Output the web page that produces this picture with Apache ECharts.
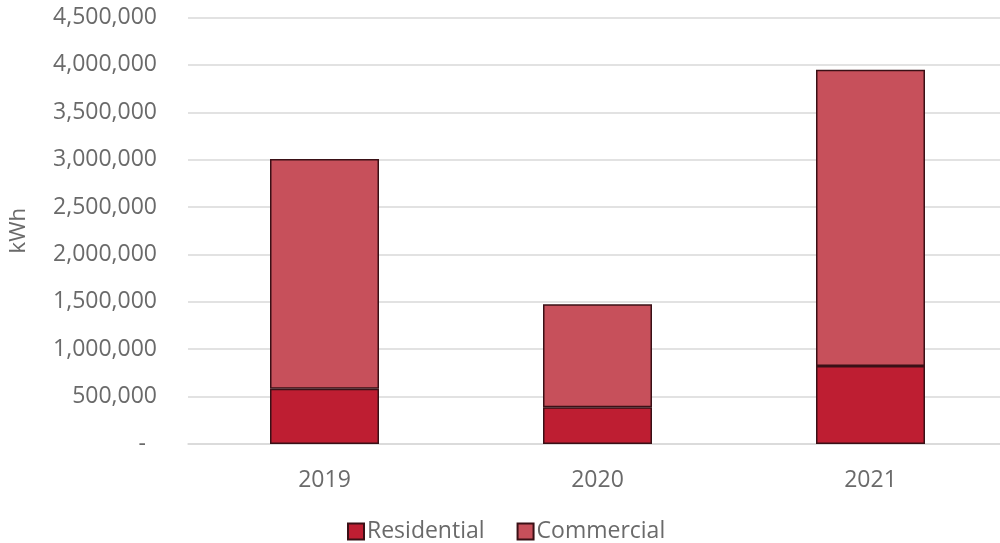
<!DOCTYPE html>
<html>
<head>
<meta charset="utf-8">
<title>Energy use by sector</title>
<script src="https://cdn.jsdelivr.net/npm/echarts@6/dist/echarts.min.js"></script>
<style>
  html, body { margin: 0; padding: 0; background: #ffffff; overflow: hidden; }
  #wrap { width: 1000px; height: 543px; overflow: hidden; }
  /* the plot area runs slightly past the right edge of the page */
  #chart { width: 1007px; height: 543px; }
</style>
</head>
<body>
<div id="wrap"><div id="chart"></div></div>
<script>
// Yearly consumption, split by customer sector (kWh)
const years = ['2019', '2020', '2021'];
const residential = [584000, 388000, 824000];
const commercial = [2422000, 1087000, 3126000];
const seriesNames = ['Residential', 'Commercial'];

const textColor = '#6a6a6a';
const fontFamily = '"Open Sans", "Noto Sans", sans-serif';

const chart = echarts.init(document.getElementById('chart'));

chart.setOption({
  animation: false,
  backgroundColor: '#ffffff',
  grid: { left: 188, top: 17.5, right: 0, bottom: 99, containLabel: false },
  legend: {
    data: seriesNames,
    left: 342,
    top: 515,
    itemWidth: 16,
    itemHeight: 16,
    itemGap: 32,
    icon: 'rect',
    textStyle: { color: textColor, fontSize: 23, fontFamily: fontFamily, padding: [0, 0, 0, -2] }
  },
  xAxis: {
    type: 'category',
    data: years,
    axisLine: { show: true, lineStyle: { color: '#d9d9d9', width: 1.5 } },
    axisTick: { show: false },
    axisLabel: { color: textColor, fontSize: 23, fontFamily: fontFamily, margin: 25 }
  },
  yAxis: {
    type: 'value',
    min: 0,
    max: 4500000,
    interval: 500000,
    name: 'kWh',
    nameLocation: 'middle',
    nameRotate: 90,
    nameGap: 158,
    nameTextStyle: { color: textColor, fontSize: 22, fontFamily: fontFamily },
    axisLine: { show: false },
    axisTick: { show: false },
    splitLine: { lineStyle: { color: '#d9d9d9', width: 1.5 } },
    axisLabel: {
      color: textColor,
      fontSize: 23,
      fontFamily: fontFamily,
      margin: 31,
      formatter: function (v) {
        return v === 0 ? '{d|-}' : v.toLocaleString('en-US');
      },
      rich: {
        d: { color: textColor, fontSize: 23, fontFamily: fontFamily, padding: [0, 11, 0, 0] }
      }
    }
  },
  series: [
    {
      name: seriesNames[0],
      type: 'bar',
      stack: 'total',
      data: residential,
      barWidth: 109,
      itemStyle: { color: '#be1e32', borderColor: '#3a1016', borderWidth: 1.5 }
    },
    {
      name: seriesNames[1],
      type: 'bar',
      stack: 'total',
      data: commercial,
      barWidth: 109,
      itemStyle: { color: '#c7505b', borderColor: '#3a1016', borderWidth: 1.5 }
    }
  ]
});
</script>
</body>
</html>
